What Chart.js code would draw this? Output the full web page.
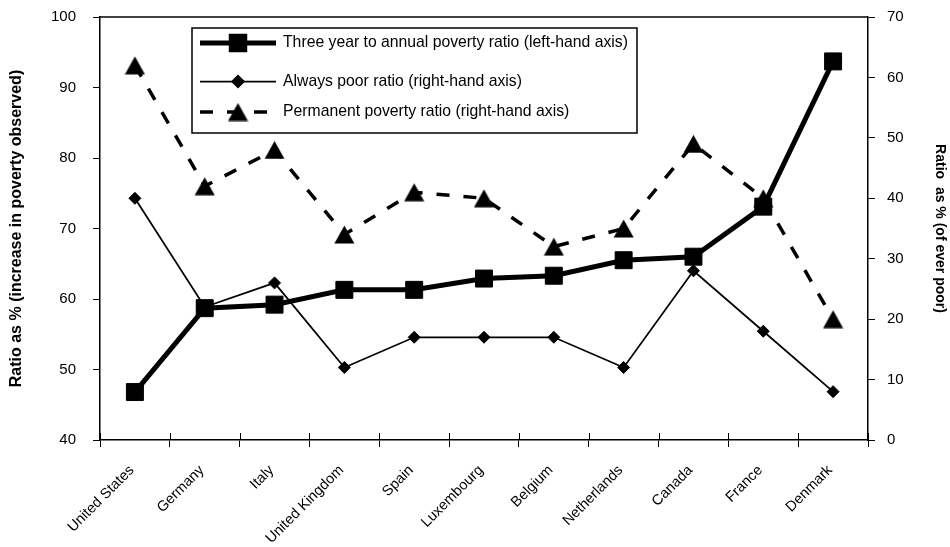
<!DOCTYPE html>
<html>
<head>
<meta charset="utf-8">
<script src="https://cdn.jsdelivr.net/npm/chart.js@4/dist/chart.umd.min.js"></script>
<style>
  html, body { margin: 0; padding: 0; background: #fff; }
</style>
</head>
<body>
<canvas id="myChart" width="950" height="547"></canvas>
<script>
var countries = ['United States', 'Germany', 'Italy', 'United Kingdom', 'Spain', 'Luxembourg',
                 'Belgium', 'Netherlands', 'Canada', 'France', 'Denmark'];
var threeYearRatio = [46.8, 58.7, 59.2, 61.3, 61.3, 62.9, 63.3, 65.5, 66.0, 73.1, 93.7];
var alwaysPoorRatio = [40, 22, 26, 12, 17, 17, 17, 12, 28, 18, 8];
var permanentRatio = [62, 42, 48, 34, 41, 40, 32, 35, 49, 40, 20];
var leftAxisRange = [40, 100];
var rightAxisRange = [0, 70];

var fontFamily = '"Liberation Sans", Arial, sans-serif';

// triangle marker centred on its box (like the spreadsheet marker), not on its circumcentre
var triangleMarker = document.createElement('canvas');
triangleMarker.width = 21;
triangleMarker.height = 19;
(function () {
    var c = triangleMarker.getContext('2d');
    c.fillStyle = '#000';
    c.beginPath();
    c.moveTo(10.5, 0.5);
    c.lineTo(20.5, 18.5);
    c.lineTo(0.5, 18.5);
    c.closePath();
    c.fill();
})();

// frame top line, upward half of the category ticks, tick labels, boxed legend
var framePlugin = {
    id: 'frame',
    afterDraw: function (chart) {
        var ctx = chart.ctx;
        var a = chart.chartArea;
        var xs = chart.scales.x;
        ctx.save();
        ctx.strokeStyle = '#000';
        ctx.lineWidth = 1.5;
        ctx.beginPath();
        ctx.moveTo(a.left, a.top);
        ctx.lineTo(a.right, a.top);
        ctx.stroke();

        ctx.lineWidth = 1;
        var step = (a.right - a.left) / countries.length;
        ctx.beginPath();
        for (var i = 0; i <= countries.length; i++) {
            var px = Math.round(a.left + i * step) + 0.5;
            ctx.moveTo(px, a.bottom);
            ctx.lineTo(px, a.bottom - 7);
        }
        ctx.stroke();

        ctx.fillStyle = '#000';
        // value labels on both axes
        ctx.font = '15px ' + fontFamily;
        ctx.textBaseline = 'middle';
        ctx.textAlign = 'right';
        chart.scales.y.ticks.forEach(function (t) {
            ctx.fillText(String(t.value), a.left - 24, chart.scales.y.getPixelForValue(t.value));
        });
        ctx.textAlign = 'left';
        chart.scales.y1.ticks.forEach(function (t) {
            ctx.fillText(String(t.value), a.right + 19, chart.scales.y1.getPixelForValue(t.value));
        });

        // country labels at 45 degrees
        ctx.font = '14.5px ' + fontFamily;
        ctx.textAlign = 'right';
        countries.forEach(function (name, i) {
            ctx.save();
            ctx.translate(xs.getPixelForValue(i) - 3, a.bottom + 28);
            ctx.rotate(-Math.PI / 4);
            ctx.fillText(name, 0, 0);
            ctx.restore();
        });

        // legend box
        var bx = 192, by = 28, bw = 445, bh = 105;
        ctx.fillStyle = '#fff';
        ctx.fillRect(bx, by, bw, bh);
        ctx.lineWidth = 1.5;
        ctx.strokeRect(bx, by, bw, bh);
        var rows = [43, 81.5, 112];
        chart.data.datasets.forEach(function (ds, k) {
            var y = rows[k];
            ctx.save();
            ctx.lineWidth = ds.borderWidth;
            ctx.setLineDash(ds.borderDash || []);
            ctx.beginPath();
            ctx.moveTo(200, y);
            ctx.lineTo(276, y);
            ctx.stroke();
            ctx.restore();
            ctx.fillStyle = '#000';
            Chart.helpers.drawPoint(ctx, {
                pointStyle: ds.pointStyle,
                radius: ds.pointRadius,
                rotation: 0,
                borderWidth: 1
            }, 238, y);
            ctx.fill();
            ctx.fillStyle = '#000';
            ctx.font = '15.75px ' + fontFamily;
            ctx.textBaseline = 'middle';
            ctx.textAlign = 'left';
            ctx.fillText(ds.label, 283, y);
        });
        ctx.restore();
    }
};

var myChart = new Chart(document.getElementById('myChart').getContext('2d'), {
    type: 'line',
    data: {
        labels: countries,
        datasets: [{
            label: 'Three year to annual poverty ratio (left-hand axis)',
            data: threeYearRatio,
            yAxisID: 'y',
            borderColor: '#000',
            backgroundColor: '#000',
            borderWidth: 5,
            pointStyle: 'rect',
            pointRadius: 12,
            pointBorderWidth: 1,
            pointBackgroundColor: '#000',
            pointBorderColor: '#000',
            tension: 0
        }, {
            label: 'Always poor ratio (right-hand axis)',
            data: alwaysPoorRatio,
            yAxisID: 'y1',
            borderColor: '#000',
            backgroundColor: '#000',
            borderWidth: 1.75,
            pointStyle: 'rectRot',
            pointRadius: 6,
            pointBorderWidth: 1,
            pointBackgroundColor: '#000',
            pointBorderColor: '#000',
            tension: 0
        }, {
            label: 'Permanent poverty ratio (right-hand axis)',
            data: permanentRatio,
            yAxisID: 'y1',
            borderColor: '#000',
            backgroundColor: '#000',
            borderWidth: 3.5,
            borderDash: [13, 14],
            pointStyle: triangleMarker,
            pointRadius: 10,
            pointBorderWidth: 0,
            pointBackgroundColor: '#000',
            pointBorderColor: '#000',
            tension: 0
        }]
    },
    options: {
        responsive: false,
        animation: false,
        layout: { padding: { top: 17, left: 0, right: 0, bottom: 0 } },
        plugins: {
            legend: { display: false },
            tooltip: { enabled: false }
        },
        scales: {
            x: {
                offset: true,
                grid: { offset: true, drawOnChartArea: false, color: '#000', tickLength: 7, lineWidth: 1 },
                border: { color: '#000', width: 1.5 },
                ticks: { display: false, autoSkip: false },
                afterFit: function (scale) { scale.height = 107; }
            },
            y: {
                position: 'left',
                min: leftAxisRange[0],
                max: leftAxisRange[1],
                grid: { drawOnChartArea: false, color: '#000', tickLength: 7, lineWidth: 1 },
                border: { color: '#000', width: 1.5 },
                ticks: { stepSize: 10, display: false },
                title: {
                    display: true,
                    text: 'Ratio as % (increase in poverty observed)',
                    color: '#000',
                    padding: { top: 7, bottom: 0 },
                    font: { family: fontFamily, size: 16, weight: 'bold' }
                },
                afterFit: function (scale) { scale.width = 100; }
            },
            y1: {
                position: 'right',
                min: rightAxisRange[0],
                max: rightAxisRange[1],
                grid: { drawOnChartArea: false, color: '#000', tickLength: 7, lineWidth: 1 },
                border: { color: '#000', width: 1.5 },
                ticks: { stepSize: 10, display: false },
                title: {
                    display: true,
                    text: 'Ratio  as % (of ever poor)',
                    color: '#000',
                    padding: { top: 2, bottom: 0 },
                    font: { family: fontFamily, size: 14, weight: 'bold' }
                },
                afterFit: function (scale) { scale.width = 82; }
            }
        }
    },
    plugins: [framePlugin]
});
</script>
</body>
</html>
